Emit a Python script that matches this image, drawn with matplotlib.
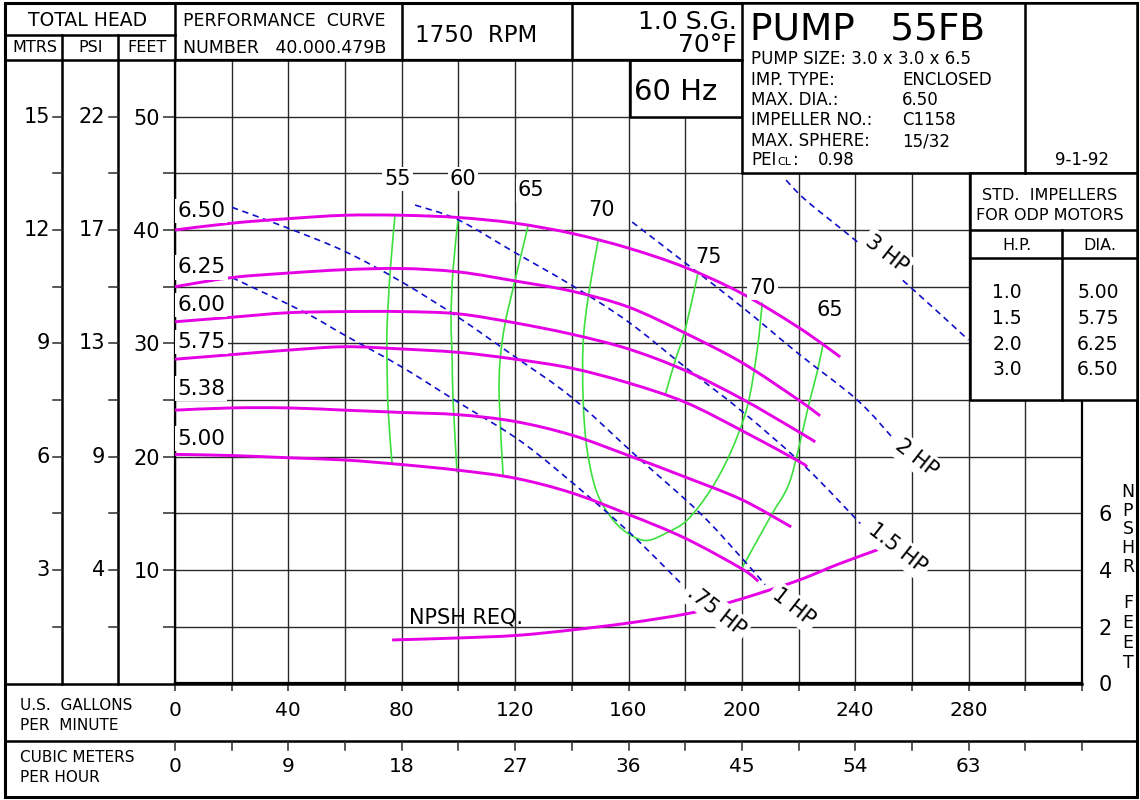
import matplotlib
matplotlib.use("Agg")
import matplotlib.pyplot as plt
import matplotlib.transforms as mtransforms
from matplotlib import patches
from matplotlib.path import Path

plt.rcParams['font.family'] = ['DejaVu Sans']

# impeller head curves: flow in US gpm, head in feet
q650 = [0, 20, 40, 60, 80, 100, 120, 140, 160, 180, 200, 220, 234.7]
h650 = [40.0, 40.6, 41.0, 41.3, 41.3, 41.1, 40.6, 39.7, 38.4, 36.7, 34.4, 31.4, 28.8]
q625 = [0, 20, 40, 60, 80, 100, 120, 140, 160, 180, 200, 220, 227.6]
h625 = [35.0, 35.8, 36.2, 36.5, 36.6, 36.3, 35.5, 34.6, 33.2, 30.9, 28.3, 25.0, 23.6]
q600 = [0, 20, 40, 60, 80, 100, 120, 140, 160, 180, 200, 220, 225.9]
h600 = [31.9, 32.3, 32.7, 32.8, 32.8, 32.6, 31.8, 30.8, 29.5, 27.6, 25.1, 22.2, 21.3]
q575 = [0, 20, 40, 60, 80, 100, 120, 140, 160, 180, 200, 220, 223.0]
h575 = [28.6, 29.0, 29.4, 29.7, 29.5, 29.2, 28.6, 27.8, 26.5, 24.8, 22.3, 19.6, 19.1]
q538 = [0, 20, 40, 60, 80, 100, 120, 140, 160, 180, 200, 217.4]
h538 = [24.1, 24.3, 24.3, 24.1, 23.9, 23.7, 23.1, 21.9, 20.1, 18.2, 16.2, 13.8]
q500 = [0, 20, 40, 60, 80, 100, 120, 140, 160, 180, 200, 205.8]
h500 = [20.2, 20.1, 19.9, 19.7, 19.3, 18.8, 18.1, 16.8, 14.9, 12.8, 10.1, 9.0]
imp_labels = ['6.50', '6.25', '6.00', '5.75', '5.38', '5.00']

# efficiency lines (%)
e55_q = [77.6, 75.9, 74.8, 74.8, 75.2, 76.6]
e55_h = [41.2, 36.3, 31.4, 28.5, 24.1, 19.4]
e60_q = [99.9, 98.1, 97.4, 97.8, 98.1, 99.5]
e60_h = [41.0, 36.5, 32.3, 28.5, 25.0, 18.6]
e65_q = [124.6, 120.0, 116.5, 114.7, 114.4, 115.8]
e65_h = [40.4, 35.6, 31.8, 28.5, 25.0, 18.2]
e70_q = [149.3, 145.8, 144.0, 144.0, 145.4, 148.9, 154.6, 160.6, 166.6, 173.6,
         180.7, 188.8, 195.9, 201.9, 205.4, 207.2]
e70_h = [39.1, 34.1, 30.0, 25.0, 20.6, 16.8, 14.4, 13.1, 12.6, 13.3,
         14.4, 17.0, 20.3, 24.4, 29.4, 33.6]
e75_q = [184.6, 180.0, 176.5, 172.9]
e75_h = [36.3, 31.2, 28.5, 25.4]
e65b_q = [228.7, 226.6, 223.4, 219.9, 216.3, 210.3, 200.1]
e65b_h = [30.0, 27.5, 24.4, 20.6, 17.4, 14.8, 10.2]
eff_labels = ['55', '60', '65', '70', '75', '70', '65']

# horsepower lines
hp3_q = [215.6, 222.7, 240.0, 258.4, 279.9]
hp3_h = [44.4, 42.6, 39.1, 35.2, 30.3]
hp2_q = [161.3, 180.0, 200.1, 219.9, 240.7, 253.4]
hp2_h = [40.7, 37.1, 33.2, 29.1, 25.0, 21.6]
hp15_q = [84.7, 99.9, 120.0, 140.1, 159.9, 180.0, 200.5, 222.4, 241.8]
hp15_h = [42.2, 40.9, 38.0, 35.1, 31.9, 27.9, 23.9, 19.1, 14.1]
hp1_q = [20.1, 39.5, 60.0, 80.1, 99.9, 120.0, 140.1, 163.0, 185.3, 200.5, 208.2]
hp1_h = [42.0, 40.2, 38.1, 35.4, 32.3, 28.8, 25.2, 20.0, 15.0, 10.9, 8.7]
hp075_q = [20.1, 45.2, 60.0, 80.1, 99.9, 120.0, 135.9, 159.5, 179.0]
hp075_h = [35.8, 32.8, 30.7, 27.9, 24.8, 21.7, 18.6, 13.5, 8.7]
hp_labels = ['3 HP', '2 HP', '1.5 HP', '1 HP', '.75 HP']

# NPSH required, feet
npsh_q = [76.6, 99.9, 120.4, 139.8, 160.2, 180.4, 192.4, 207.5, 220.9, 234.4, 250.6]
npsh_ft = [1.53, 1.60, 1.69, 1.88, 2.13, 2.45, 2.76, 3.22, 3.67, 4.22, 4.81]

# axis scales
gpm_ticks = [0, 40, 80, 120, 160, 200, 240, 280]
gpm_labels = ['0', '40', '80', '120', '160', '200', '240', '280']
cmh_labels = ['0', '9', '18', '27', '36', '45', '54', '63']
feet_ticks = [10, 20, 30, 40, 50]
feet_labels = ['10', '20', '30', '40', '50']
mtrs_labels = ['3', '6', '9', '12', '15']
psi_labels = ['4', '9', '13', '17', '22']
npsh_ticks = [0, 2, 4, 6]
std_hp = ['1.0', '1.5', '2.0', '3.0']
std_dia = ['5.00', '5.75', '6.25', '6.50']

MAGENTA = '#e600e6'
GREEN = '#3ce03c'
BLUE = '#1010c8'
GRID = '#2a2a2a'
W, H = 1140, 800


def smooth_path(xs, ys):
    # bezier path through the read points (catmull-rom tangents)
    pts = list(zip(xs, ys))
    n = len(pts)
    verts = [pts[0]]
    codes = [Path.MOVETO]
    for i in range(n - 1):
        p0 = pts[max(i - 1, 0)]
        p1 = pts[i]
        p2 = pts[i + 1]
        p3 = pts[min(i + 2, n - 1)]
        c1 = (p1[0] + (p2[0] - p0[0]) / 6, p1[1] + (p2[1] - p0[1]) / 6)
        c2 = (p2[0] - (p3[0] - p1[0]) / 6, p2[1] - (p3[1] - p1[1]) / 6)
        verts += [c1, c2, p2]
        codes += [Path.CURVE4] * 3
    return Path(verts, codes)


def draw_curve(a, xs, ys, **kw):
    a.add_patch(patches.PathPatch(smooth_path(xs, ys), fill=False, **kw))


fig = plt.figure(figsize=(11.4, 8), dpi=100, facecolor='white')

# plot area in pixels: x 175..1082, y 60..683.3
ax = fig.add_axes([175 / W, 1 - 683.3 / H, 907 / W, 623.3 / H])
ax.set_xlim(0, 320)
ax.set_ylim(0, 55)
ax.set_xticks(range(0, 321, 20))
ax.set_xticklabels([])
ax.set_yticks(feet_ticks)
ax.set_yticklabels(feet_labels, fontsize=15)
ax.set_yticks([5, 15, 25, 35, 45], minor=True)
ax.grid(which='both', color=GRID, lw=1.0)
ax.set_axisbelow(True)
ax.tick_params(axis='y', which='both', direction='out', length=9, width=1.1, pad=2, color=GRID)
ax.tick_params(axis='x', direction='out', length=6, width=1.1, color=GRID)
for s in ax.spines.values():
    s.set_linewidth(1.6)

ax2 = ax.twinx()
ax2.set_ylim(0, 55 / 2.5)
ax2.set_yticks(npsh_ticks)
ax2.set_yticklabels([str(v) for v in npsh_ticks], fontsize=15)
ax2.tick_params(axis='y', length=0, pad=12)
for s in ax2.spines.values():
    s.set_visible(False)

curves = [(q650, h650), (q625, h625), (q600, h600), (q575, h575), (q538, h538), (q500, h500)]
for q, h in curves:
    draw_curve(ax, q, h, edgecolor=MAGENTA, lw=2.1, zorder=3, capstyle='butt')
ax.add_patch(patches.PathPatch(smooth_path(npsh_q, npsh_ft), fill=False, edgecolor=MAGENTA,
                               lw=2.1, zorder=3, capstyle='butt', transform=ax2.transData))

effs = [(e55_q, e55_h), (e60_q, e60_h), (e65_q, e65_h), (e70_q, e70_h),
        (e75_q, e75_h), (e65b_q, e65b_h)]
for q, h in effs:
    draw_curve(ax, q, h, edgecolor=GREEN, lw=1.2, zorder=2.5)

hps = [(hp3_q, hp3_h), (hp2_q, hp2_h), (hp15_q, hp15_h), (hp1_q, hp1_h), (hp075_q, hp075_h)]
for q, h in hps:
    draw_curve(ax, q, h, edgecolor=BLUE, lw=1.2, ls=(0, (3.8, 2.8)), zorder=2.6)

ax.set_xlim(0, 320)
ax.set_ylim(0, 55)

wbox = dict(facecolor='white', edgecolor='none', pad=1.5)
imp_pos = [41.7, 36.7, 33.4, 30.1, 26.0, 21.6]
for lab, y in zip(imp_labels, imp_pos):
    ax.text(0.8, y, lab, fontsize=15.5, ha='left', va='center', bbox=wbox, zorder=5)

eff_pos = [(78.4, 44.5), (101.6, 44.5), (125.6, 43.5), (150.4, 41.8),
           (188.1, 37.6), (207.2, 34.9), (231.2, 32.9)]
for lab, (x, y) in zip(eff_labels, eff_pos):
    ax.text(x, y, lab, fontsize=15, ha='center', va='center', bbox=wbox, zorder=5)

hp_pos = [(251.0, 37.9), (261.5, 19.9), (254.8, 11.9), (218.1, 6.7), (190.9, 6.4)]
for lab, (x, y) in zip(hp_labels, hp_pos):
    ax.text(x, y, lab, fontsize=15, ha='center', va='center', rotation=-38,
            rotation_mode='anchor', bbox=dict(facecolor='white', edgecolor='none', pad=2.5),
            zorder=5)

ax.text(82.6, 5.85, 'NPSH REQ.', fontsize=15, ha='left', va='center', zorder=5)

# sheet frame, drawn in pixel coordinates on top
frame = fig.add_axes([0, 0, 1, 1])
frame.set_xlim(0, W)
frame.set_ylim(H, 0)
frame.axis('off')
frame.set_zorder(10)
frame.autoscale(False)


def seg(xs, ys, lw=1.8):
    frame.plot(xs, ys, color='black', lw=lw, solid_capstyle='projecting')


def box(x, y, w, h):
    frame.add_patch(patches.Rectangle((x, y), w, h, facecolor='white',
                                      edgecolor='black', lw=1.8))


frame.add_patch(patches.Rectangle((5, 3), 1132, 794, facecolor='none', edgecolor='black', lw=2.2))
seg([5, 742], [60, 60])
seg([5, 175], [35, 35])
seg([62, 62], [35, 684])
seg([118, 118], [35, 684])
seg([175, 175], [3, 60])
seg([402, 402], [3, 60])
seg([572, 572], [3, 60])
box(630, 60, 112, 57)
box(742, 3, 395, 170)
seg([1025, 1025], [3, 173])
box(970, 173, 167, 227)
seg([970, 1137], [230, 230])
seg([970, 1137], [258, 258])
seg([1062, 1062], [230, 400])
seg([5, 1082], [684, 684])
seg([5, 1137], [741, 741])

# left head columns (metres, psi) at the feet positions
tr_left = mtransforms.blended_transform_factory(frame.transData, ax.transData)
for ft in range(5, 51, 5):
    for xc in (62, 118):
        frame.plot([xc - 9, xc], [ft, ft], color=GRID, lw=1.1, transform=tr_left)
for ft, m, p in zip(feet_ticks, mtrs_labels, psi_labels):
    frame.text(50, ft, m, fontsize=15, ha='right', va='center', transform=tr_left)
    frame.text(105, ft, p, fontsize=15, ha='right', va='center', transform=tr_left)

# flow rows
tr_bot = mtransforms.blended_transform_factory(ax.transData, frame.transData)
for q in range(0, 321, 20):
    frame.plot([q, q], [741, 750], color=GRID, lw=1.1, transform=tr_bot)
for q, g, c in zip(gpm_ticks, gpm_labels, cmh_labels):
    frame.text(q, 711, g, fontsize=14.5, ha='center', va='center', transform=tr_bot)
    frame.text(q, 767, c, fontsize=14.5, ha='center', va='center', transform=tr_bot)

frame.text(20, 705, 'U.S.  GALLONS', fontsize=11, va='center')
frame.text(20, 726, 'PER  MINUTE', fontsize=11, va='center')
frame.text(20, 757, 'CUBIC METERS', fontsize=11, va='center')
frame.text(20, 777, 'PER HOUR', fontsize=11, va='center')

# header
frame.text(88, 21, 'TOTAL HEAD', fontsize=13.5, ha='center', va='center')
frame.text(35, 48, 'MTRS', fontsize=11.5, ha='center', va='center')
frame.text(91, 48, 'PSI', fontsize=11.5, ha='center', va='center')
frame.text(147, 48, 'FEET', fontsize=11.5, ha='center', va='center')
frame.text(183, 21, 'PERFORMANCE  CURVE', fontsize=12.5, va='center')
frame.text(183, 48, 'NUMBER   40.000.479B', fontsize=12.5, va='center')
frame.text(415, 35, '1750  RPM', fontsize=16.5, va='center')
frame.text(737, 22, '1.0 S.G.', fontsize=18, ha='right', va='center')
frame.text(737, 45, '70°F', fontsize=18, ha='right', va='center')
frame.text(676, 92, '60 Hz', fontsize=21, ha='center', va='center')

frame.text(750, 29, 'PUMP   55FB', fontsize=27, va='center')
frame.text(751, 59, 'PUMP SIZE: 3.0 x 3.0 x 6.5', fontsize=12, va='center')
info = [('IMP. TYPE:', 'ENCLOSED', 80), ('MAX. DIA.:', '6.50', 100),
        ('IMPELLER NO.:', 'C1158', 120), ('MAX. SPHERE:', '15/32', 141)]
for k, v, y in info:
    frame.text(751, y, k, fontsize=12, va='center')
    frame.text(902, y, v, fontsize=12, va='center')
frame.text(751, 160, 'PEI', fontsize=12, va='center')
frame.text(777, 162, 'CL', fontsize=8, va='center')
frame.text(793, 160, ':', fontsize=12, va='center')
frame.text(818, 160, '0.98', fontsize=12, va='center')
frame.text(1082, 160, '9-1-92', fontsize=12, ha='center', va='center')

# standard impeller table
frame.text(1050, 195, 'STD.  IMPELLERS', fontsize=11.5, ha='center', va='center')
frame.text(1050, 215, 'FOR ODP MOTORS', fontsize=11.5, ha='center', va='center')
frame.text(1017, 245, 'H.P.', fontsize=11.5, ha='center', va='center')
frame.text(1100, 245, 'DIA.', fontsize=11.5, ha='center', va='center')
for i, (hp, d) in enumerate(zip(std_hp, std_dia)):
    y = 293 + i * 25.5
    frame.text(1007, y, hp, fontsize=13.5, ha='center', va='center')
    frame.text(1098, y, d, fontsize=13.5, ha='center', va='center')

# right-hand NPSH caption, one letter per line
for i, ch in enumerate('NPSHR'):
    frame.text(1128, 492 + i * 18.7, ch, fontsize=12.5, ha='center', va='center')
for i, ch in enumerate('FEET'):
    frame.text(1128, 603 + i * 20, ch, fontsize=12.5, ha='center', va='center')

fig.savefig('out.png', dpi=100)
